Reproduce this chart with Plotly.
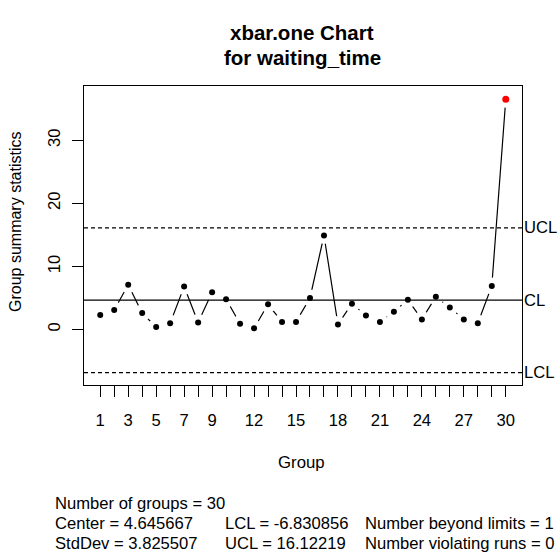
import plotly.graph_objects as go

# ---- data ----
groups = list(range(1, 31))
values = [2.3, 3.1, 7.1, 2.6, 0.4, 1.0, 6.8, 1.1, 5.9, 4.8,
          0.9, 0.2, 4.0, 1.2, 1.2, 5.0, 14.9, 0.8, 4.1, 2.2,
          1.2, 2.8, 4.7, 1.6, 5.2, 3.5, 1.6, 1.0, 6.9, 36.5]
center = 4.645667
stddev = 3.825507
lcl = -6.830856
ucl = 16.12219
n_beyond = 1
n_runs = 0
x_tick_vals = groups
x_tick_labels = ["1", "3", "5", "7", "9", "12", "15", "18", "21", "24", "27", "30"]
y_tick_vals = [0, 10, 20, 30]

FONT = "Liberation Sans, Arial, sans-serif"
FS = 16.6

# layout geometry (pixels)
W, H = 560, 560
L, R, T, B = 84, 522, 86, 385
PW, PH = R - L, B - T


def px(xp):
    return (xp - L) / PW


def py(yp):
    return (B - yp) / PH


inside = [v <= ucl and v >= lcl for v in values]
in_x = [g for g, ok in zip(groups, inside) if ok]
in_y = [v for v, ok in zip(values, inside) if ok]
out_x = [g for g, ok in zip(groups, inside) if not ok]
out_y = [v for v, ok in zip(values, inside) if not ok]

fig = go.Figure()
# connecting line
fig.add_trace(go.Scatter(x=groups, y=values, mode="lines",
                         line=dict(color="black", width=1.2),
                         hoverinfo="skip", showlegend=False))
# white masks to create gaps around points (R type="b")
fig.add_trace(go.Scatter(x=groups, y=values, mode="markers",
                         marker=dict(color="white", size=17),
                         hoverinfo="skip", showlegend=False))
# control limits
xr = [-0.16, 31.16]
fig.add_trace(go.Scatter(x=xr, y=[center, center], mode="lines",
                         line=dict(color="black", width=1.2),
                         hoverinfo="skip", showlegend=False))
for lim in (ucl, lcl):
    fig.add_trace(go.Scatter(x=xr, y=[lim, lim], mode="lines",
                             line=dict(color="black", width=1.2, dash="4px,3px"),
                             hoverinfo="skip", showlegend=False))
# points
fig.add_trace(go.Scatter(x=in_x, y=in_y, mode="markers",
                         marker=dict(color="black", size=6),
                         showlegend=False))
fig.add_trace(go.Scatter(x=out_x, y=out_y, mode="markers",
                         marker=dict(color="red", size=7),
                         showlegend=False))

ticktext = [str(g) if str(g) in x_tick_labels else "" for g in x_tick_vals]

fig.update_layout(
    width=W, height=H,
    margin=dict(l=L, r=W - R, t=T, b=H - B, pad=0),
    paper_bgcolor="white", plot_bgcolor="white",
    font=dict(family=FONT, size=FS, color="black"),
    showlegend=False,
    xaxis=dict(range=xr, tickmode="array", tickvals=x_tick_vals, ticktext=ticktext,
               ticks="outside", ticklen=11, tickwidth=1, tickcolor="black",
               showgrid=False, zeroline=False, showline=True, linecolor="black",
               linewidth=1, mirror=True, ticklabelstandoff=9,
               tickfont=dict(size=FS, family=FONT)),
    yaxis=dict(range=[-8.8, 38.6], tickmode="array", tickvals=y_tick_vals,
               ticks="outside", ticklen=11, tickwidth=1, tickcolor="black",
               tickangle=-90,
               showgrid=False, zeroline=False, showline=True, linecolor="black",
               linewidth=1, mirror=True, ticklabelstandoff=5,
               tickfont=dict(size=FS, family=FONT)),
)

ann = []
# title
ann.append(dict(text="<b>xbar.one Chart</b>", x=px(302), y=py(33), xref="paper", yref="paper",
                showarrow=False, xanchor="center", yanchor="middle",
                font=dict(size=20.5, family=FONT)))
ann.append(dict(text="<b>for waiting_time</b>", x=px(302), y=py(57), xref="paper", yref="paper",
                showarrow=False, xanchor="center", yanchor="middle",
                font=dict(size=20.5, family=FONT)))
# axis titles
ann.append(dict(text="Group", x=px(301), y=py(462), xref="paper", yref="paper",
                showarrow=False, xanchor="center", yanchor="middle",
                font=dict(size=16.8, family=FONT)))
ann.append(dict(text="Group summary statistics", x=px(15), y=py(222), xref="paper", yref="paper",
                showarrow=False, xanchor="center", yanchor="middle", textangle=-90,
                font=dict(size=16, family=FONT)))
# limit labels
for lab, val in (("UCL", ucl), ("CL", center), ("LCL", lcl)):
    ann.append(dict(text=lab, x=px(522), y=val, xref="paper", yref="y",
                    showarrow=False, xanchor="left", yanchor="middle",
                    font=dict(size=FS, family=FONT)))
# stats text
rows = [
    [(53, f"Number of groups = {len(groups)}")],
    [(53, f"Center = {center}"), (223, f"LCL = {lcl}"), (363, f"Number beyond limits = {n_beyond}")],
    [(53, f"StdDev = {stddev}"), (223, f"UCL = {ucl}"), (363, f"Number violating runs = {n_runs}")],
]
row_y = [503, 523, 543]
for ry, row in zip(row_y, rows):
    for xpix, txt in row:
        ann.append(dict(text=txt, x=px(xpix), y=py(ry), xref="paper", yref="paper",
                        showarrow=False, xanchor="left", yanchor="middle",
                        font=dict(size=FS, family=FONT)))

fig.update_layout(annotations=ann)
fig.write_html("out.html")
